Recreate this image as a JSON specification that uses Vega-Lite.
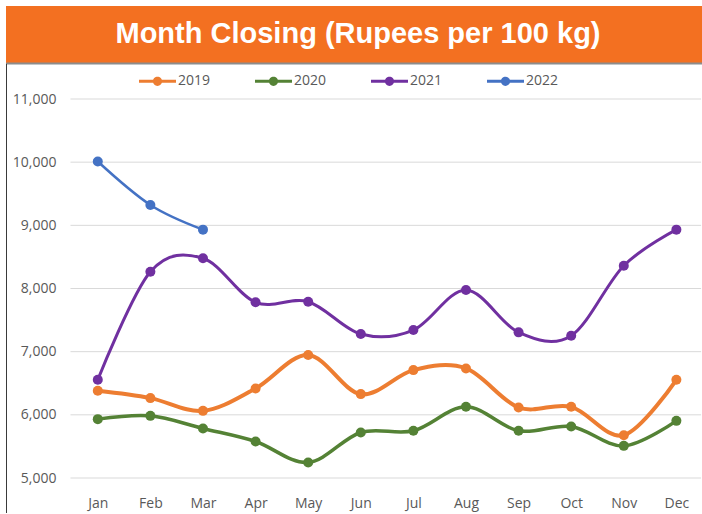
{
  "$schema": "https://vega.github.io/schema/vega-lite/v6.json",
  "padding": {"left": 6, "top": 6, "right": 0, "bottom": 0},
  "autosize": {"type": "pad"},
  "background": "white",
  "spacing": 0,
  "config": {"view": {"stroke": null}, "font": "Open Sans"},
  "resolve": {"scale": {"x": "independent", "y": "independent", "color": "independent"}, "axis": {"x": "independent", "y": "independent"}},
  "datasets": {
    "banner": [{"t": "Month Closing (Rupees per 100 kg)"}],
    "gridlines": [{"g": 5000}, {"g": 6000}, {"g": 7000}, {"g": 8000}, {"g": 9000}, {"g": 10000}, {"g": 11000}],
    "prices": [
      {"year": "2019", "m": 1, "month": "Jan", "value": 6380},
      {"year": "2019", "m": 2, "month": "Feb", "value": 6265},
      {"year": "2019", "m": 3, "month": "Mar", "value": 6063},
      {"year": "2019", "m": 4, "month": "Apr", "value": 6418},
      {"year": "2019", "m": 5, "month": "May", "value": 6946},
      {"year": "2019", "m": 6, "month": "Jun", "value": 6328},
      {"year": "2019", "m": 7, "month": "Jul", "value": 6708},
      {"year": "2019", "m": 8, "month": "Aug", "value": 6735},
      {"year": "2019", "m": 9, "month": "Sep", "value": 6117},
      {"year": "2019", "m": 10, "month": "Oct", "value": 6127},
      {"year": "2019", "m": 11, "month": "Nov", "value": 5678},
      {"year": "2019", "m": 12, "month": "Dec", "value": 6555},
      {"year": "2020", "m": 1, "month": "Jan", "value": 5932},
      {"year": "2020", "m": 2, "month": "Feb", "value": 5984},
      {"year": "2020", "m": 3, "month": "Mar", "value": 5784},
      {"year": "2020", "m": 4, "month": "Apr", "value": 5578},
      {"year": "2020", "m": 5, "month": "May", "value": 5246},
      {"year": "2020", "m": 6, "month": "Jun", "value": 5721},
      {"year": "2020", "m": 7, "month": "Jul", "value": 5747},
      {"year": "2020", "m": 8, "month": "Aug", "value": 6127},
      {"year": "2020", "m": 9, "month": "Sep", "value": 5747},
      {"year": "2020", "m": 10, "month": "Oct", "value": 5816},
      {"year": "2020", "m": 11, "month": "Nov", "value": 5509},
      {"year": "2020", "m": 12, "month": "Dec", "value": 5905},
      {"year": "2021", "m": 1, "month": "Jan", "value": 6555},
      {"year": "2021", "m": 2, "month": "Feb", "value": 8266},
      {"year": "2021", "m": 3, "month": "Mar", "value": 8479},
      {"year": "2021", "m": 4, "month": "Apr", "value": 7781},
      {"year": "2021", "m": 5, "month": "May", "value": 7791},
      {"year": "2021", "m": 6, "month": "Jun", "value": 7279},
      {"year": "2021", "m": 7, "month": "Jul", "value": 7342},
      {"year": "2021", "m": 8, "month": "Aug", "value": 7976},
      {"year": "2021", "m": 9, "month": "Sep", "value": 7306},
      {"year": "2021", "m": 10, "month": "Oct", "value": 7252},
      {"year": "2021", "m": 11, "month": "Nov", "value": 8361},
      {"year": "2021", "m": 12, "month": "Dec", "value": 8932},
      {"year": "2022", "m": 1, "month": "Jan", "value": 10010},
      {"year": "2022", "m": 2, "month": "Feb", "value": 9323},
      {"year": "2022", "m": 3, "month": "Mar", "value": 8932}
    ]
  },
  "vconcat": [
    {
      "width": 696,
      "height": 57,
      "data": {"name": "banner"},
      "view": {"fill": "#F37021", "stroke": null},
      "mark": {"type": "text", "font": "Liberation Sans", "fontWeight": "bold", "fontSize": 29, "color": "#ffffff", "baseline": "alphabetic", "dy": 8, "dx": 4},
      "encoding": {
        "x": {"field": "t", "type": "nominal", "axis": {"orient": "bottom", "title": null, "labels": false, "ticks": false, "domain": true, "domainColor": "#8c8c8c", "domainWidth": 2, "grid": false}},
        "text": {"field": "t", "type": "nominal"}
      }
    },
    {
      "width": 695,
      "height": 450,
      "layer": [
        {
          "data": {"name": "gridlines"},
          "mark": {"type": "rule", "color": "#d9d9d9", "strokeWidth": 1},
          "encoding": {
            "y": {"field": "g", "type": "quantitative"},
            "x": {"datum": 0.481, "type": "quantitative"},
            "x2": {"datum": 12.47}
          }
        },
        {
          "data": {"name": "prices"},
          "mark": {"type": "line", "interpolate": "cardinal"},
          "encoding": {
            "x": {"field": "m", "type": "quantitative"},
            "y": {"field": "value", "type": "quantitative"},
            "color": {"field": "year", "type": "nominal"},
            "strokeWidth": {"field": "year", "type": "nominal", "scale": {"domain": ["2019", "2020", "2021", "2022"], "range": [4, 2.5, 2.5, 2.5]}, "legend": null}
          }
        },
        {
          "data": {"name": "prices"},
          "mark": {"type": "point", "filled": true, "opacity": 1, "size": 100},
          "encoding": {
            "x": {"field": "m", "type": "quantitative"},
            "y": {"field": "value", "type": "quantitative"},
            "color": {"field": "year", "type": "nominal"}
          }
        }
      ],
      "encoding": {
        "x": {
          "type": "quantitative",
          "scale": {"domain": [-0.745, 12.468], "nice": false, "zero": false},
          "axis": {"orient": "bottom", "title": null, "values": [1, 2, 3, 4, 5, 6, 7, 8, 9, 10, 11, 12], "labelExpr": "['Jan','Feb','Mar','Apr','May','Jun','Jul','Aug','Sep','Oct','Nov','Dec'][datum.value - 1]", "offset": -20, "domain": false, "ticks": false, "tickSize": 0, "labelPadding": 3, "labelColor": "#595959", "labelFontSize": 14, "labelAngle": 0, "labelFlush": false, "labelOverlap": false, "grid": false}
        },
        "y": {
          "type": "quantitative",
          "scale": {"domain": [4446, 11570], "nice": false, "zero": false},
          "axis": {"values": [5000, 6000, 7000, 8000, 9000, 10000, 11000], "format": ",d", "title": null, "domain": true, "domainColor": "#3a3a3a", "domainWidth": 1, "ticks": false, "tickSize": 0, "labelPadding": -50, "labelAlign": "right", "labelColor": "#595959", "labelFontSize": 14, "labelFlush": false, "labelOverlap": false, "grid": false}
        },
        "color": {
          "type": "nominal",
          "scale": {"domain": ["2019", "2020", "2021", "2022"], "range": ["#ED7D31", "#548235", "#7030A0", "#4472C4"]},
          "legend": {"orient": "none", "legendX": 133, "legendY": 5.5, "direction": "horizontal", "title": null, "symbolType": "M-1,-0.12H1.96V0.12H-1Z M0.11,0A0.37,0.37 0 1,1 0.85,0A0.37,0.37 0 1,1 0.11,0Z", "symbolSize": 625, "symbolStrokeWidth": 0, "symbolOpacity": 1, "labelFontSize": 14, "labelColor": "#595959", "labelOffset": 14, "columnPadding": 44}
        }
      }
    }
  ]
}
